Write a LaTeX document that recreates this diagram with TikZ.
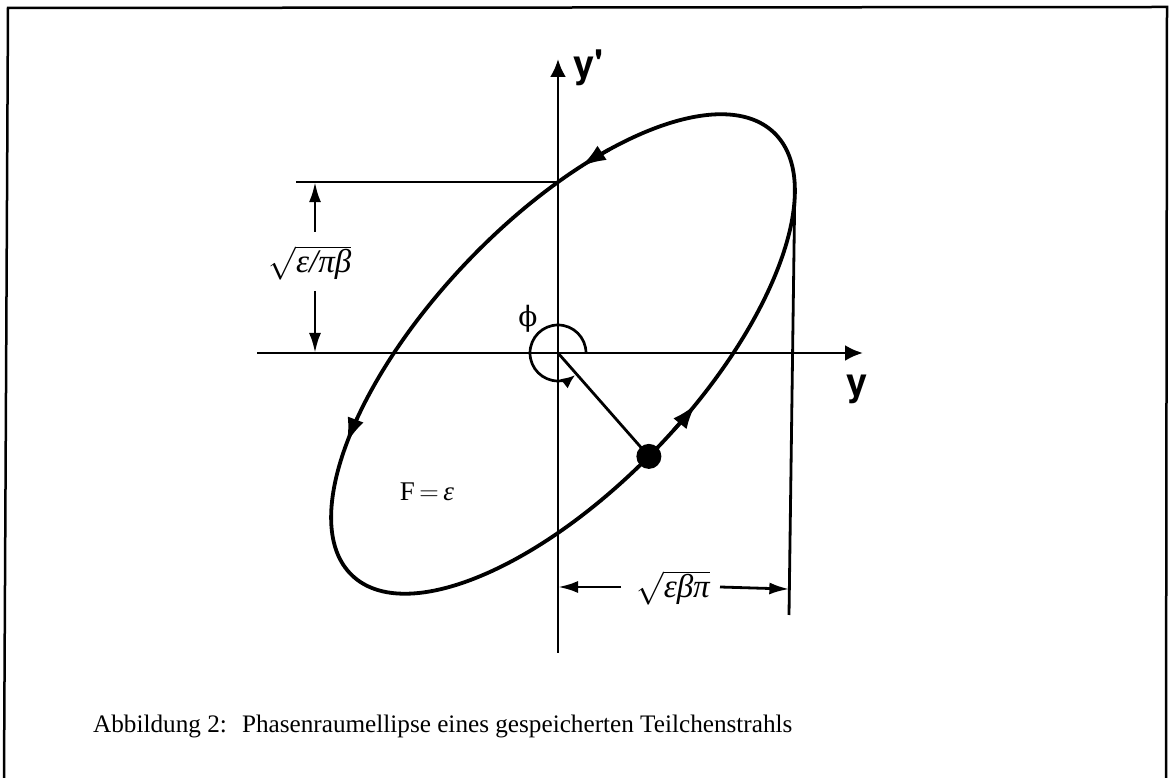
\documentclass[tikz,border=0pt]{standalone}
\usepackage{fix-cm}
\usepackage{fontspec}
\setmainfont{Liberation Serif}
\newfontfamily\axisfont{TeX Gyre Heros}
\newfontfamily\phifont{DejaVu Serif}
\usetikzlibrary{arrows.meta,intersections,calc}
\tikzset{
  frameline/.style={line width=2.5pt},
  axisline/.style={line width=2.9pt,-{Latex[length=18pt,width=16pt]}},
  ellipseline/.style={line width=3.8pt},
  ellarrow/.style={line width=3.6pt,-{Latex[length=25pt,width=17pt]}},
  dimline/.style={line width=2.8pt},
  dimtip/.style={line width=2.8pt,-{Latex[length=20pt,width=12pt]}},
  phiarrow/.style={line width=2.7pt,-{Latex[length=14pt,width=12pt]}},
  lbl/.style={font=\fontsize{33}{33}\selectfont,inner sep=0pt},
  flbl/.style={font=\fontsize{27}{27}\selectfont,inner sep=0pt},
  axlbl/.style={font=\axisfont\bfseries\fontsize{38}{38}\selectfont,inner sep=0pt},
  captxt/.style={font=\fontsize{25.2}{25.2}\selectfont,inner sep=0pt}
}
\begin{document}
\begin{tikzpicture}[x=1pt,y=1pt]
\useasboundingbox (0,0) rectangle (1170,778);
% frame
\coordinate (fbl) at (4,0);
\coordinate (ftl) at (8,770);
\coordinate (ftr) at (1167,771);
\coordinate (fbr) at (1166,0);
\draw[frameline] (fbl) -- (ftl) -- (ftr) -- (fbr);
% axes
\coordinate (O) at (558,425);
\coordinate (yb) at (558,125);
\coordinate (yt) at (558,719);
\coordinate (xl) at (257,425);
\coordinate (xr) at (863,425);
\draw[axisline,name path global=yax] (yb) -- (yt);
\draw[axisline] (xl) -- (xr);
% phase-space ellipse
\coordinate (C) at (563,424);
\begin{scope}[shift={(C)},rotate=46.4]
  \draw[ellipseline,name path global=ellp] (0,0) ellipse [x radius=305.8,y radius=133];
  \coordinate (P) at (-92.8:305.8 and 133);
  \coordinate (rm) at (-24.4:305.8 and 133);
  \coordinate (a1s) at (54:305.8 and 133);
  \coordinate (a2s) at (128:305.8 and 133);
  \coordinate (a3s) at (-86:305.8 and 133);
  \draw[ellarrow] (a1s) arc[start angle=54,end angle=61,x radius=305.8,y radius=133];
  \draw[ellarrow] (a2s) arc[start angle=128,end angle=134.3,x radius=305.8,y radius=133];
  \draw[ellarrow] (a3s) arc[start angle=-86,end angle=-79.6,x radius=305.8,y radius=133];
\end{scope}
\path[name intersections={of=ellp and yax,sort by=yax,by={yl,yh}}];
% left dimension
\coordinate (hlx) at (296,0);
\coordinate (dimx) at (315,0);
\draw[dimline] (yh -| hlx) -- (yh);
\coordinate (vu) at (315,546);
\coordinate (vl) at (315,487);
\draw[dimtip] (vu) -- (yh -| dimx);
\draw[dimtip] (vl) -- (O -| dimx);
\node[lbl] (lab1) at (310,515) {$\sqrt{\mbox{\itshape ε/πβ}}$};
% right/bottom dimension
\coordinate (vrb) at (789,163);
\draw[dimline] (rm) -- (vrb);
\coordinate (bla) at (621,191);
\coordinate (bra) at (720,191);
\coordinate (brt) at ($(rm)!0.939!(vrb)$);
\draw[dimtip] (bla) -- (yb |- bla);
\draw[dimtip] (bra) -- (brt);
\node[lbl] (lab2) at (673,190) {$\sqrt{\mbox{\itshape εβπ}}$};
% phase angle
\coordinate (phs) at ($(O)+(28,0)$);
\draw[phiarrow] (phs) arc[start angle=0,end angle=308,radius=28];
\draw[dimline] (O) -- (P);
\fill (P) circle (12.5);
\node[lbl,font=\phifont\fontsize{28}{28}\selectfont] (phi) at (528,459) {ϕ};
\node[flbl] (F) at (427,286) {F$\,=\,$\textit{ε}};
% axis labels
\node[axlbl,anchor=west] (yplbl) at (573,710) {y\textquotesingle};
\node[axlbl] (ylbl) at (857,389) {y};
% caption
\node[captxt,anchor=base west] (cap) at (93,45) {Abbildung 2:\hspace{0.6em}Phasenraumellipse eines gespeicherten Teilchenstrahls};
\end{tikzpicture}
\end{document}
